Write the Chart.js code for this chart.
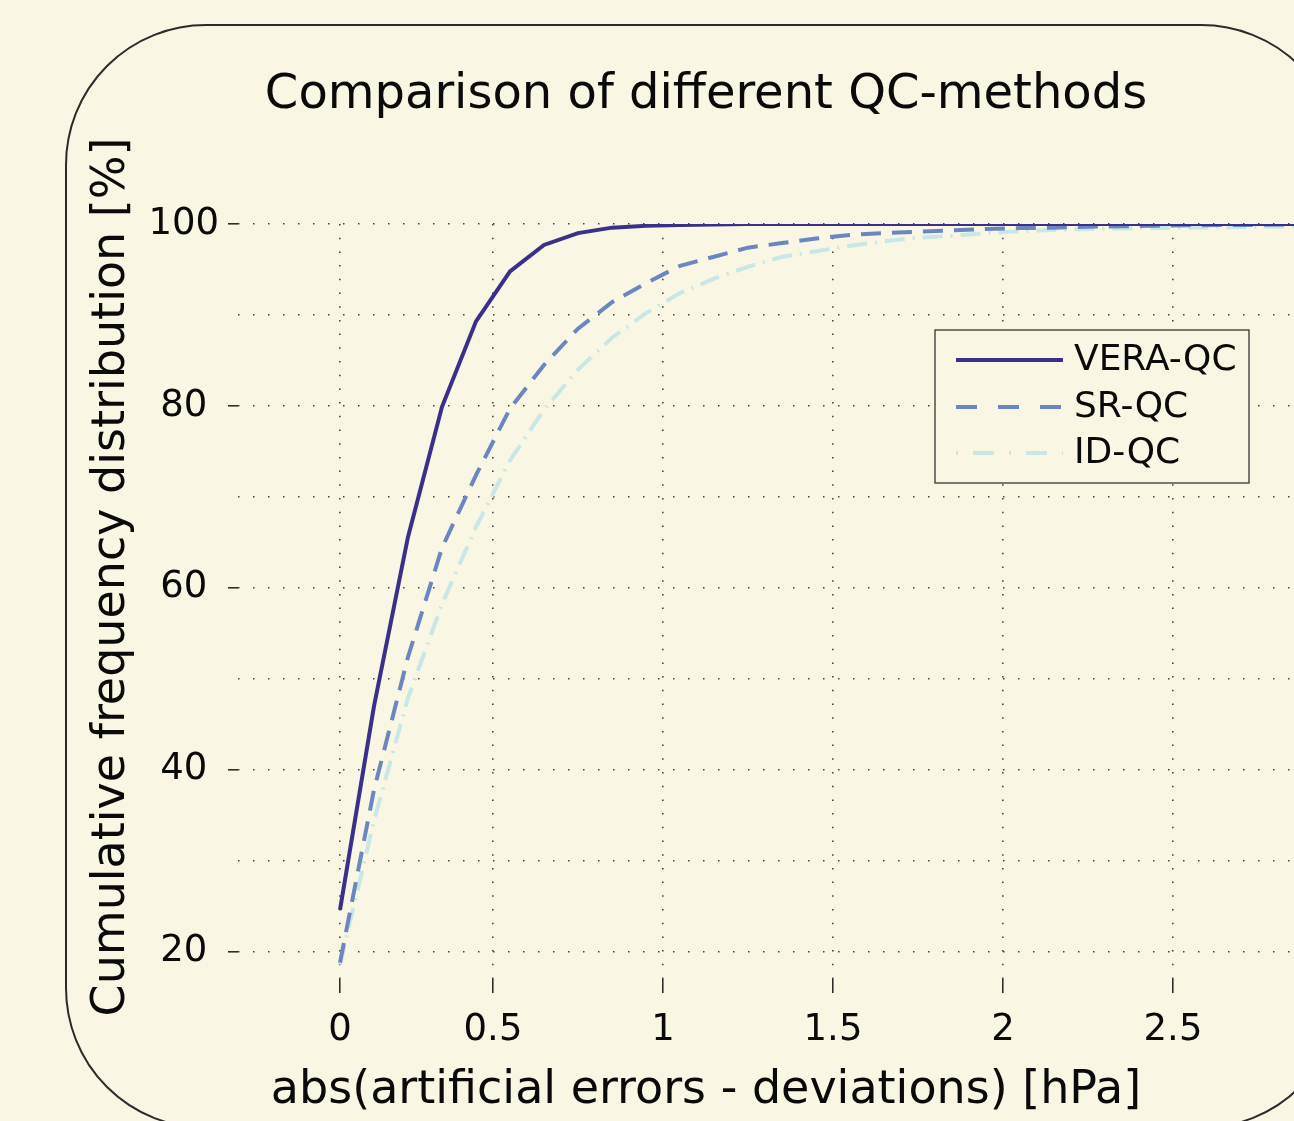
<!DOCTYPE html>
<html>
<head>
<meta charset="utf-8">
<title>Comparison of different QC-methods</title>
<script src="https://cdn.jsdelivr.net/npm/chart.js@4/dist/chart.umd.min.js"></script>
<style>
  html, body { margin: 0; padding: 0; background: #f9f6e3; overflow: hidden; }
  #wrap { position: absolute; left: 0; top: 0; width: 1360px; height: 1140px; }
</style>
</head>
<body>
<div id="wrap"><canvas id="qcChart" width="1360" height="1140"></canvas></div>
<script>
// bin centres of abs(artificial errors - deviations) [hPa]
const errorBins = [0.05, 0.15, 0.25, 0.35, 0.45, 0.55, 0.65, 0.75, 0.85, 0.95,
                   1.05, 1.15, 1.25, 1.35, 1.45, 1.55, 1.65, 1.75, 1.85, 1.95,
                   2.05, 2.15, 2.25, 2.35, 2.45, 2.55, 2.65, 2.75, 2.85, 2.95];

// cumulative frequency [%]
const veraQC = [24.6, 47.0, 65.6, 79.9, 89.3, 94.8, 97.7, 99.0, 99.6, 99.8,
                99.9, 99.95, 100, 100, 100, 100, 100, 100, 100, 100,
                100, 100, 100, 100, 100, 100, 100, 100, 100, 100];
const srQC = [18.8, 37.8, 52.4, 64.4, 72.4, 79.7, 84.5, 88.5, 91.4, 93.5,
              95.4, 96.4, 97.4, 97.9, 98.4, 98.8, 99.0, 99.15, 99.3, 99.45,
              99.55, 99.6, 99.7, 99.75, 99.8, 99.85, 99.9, 99.9, 99.95, 100];
const idQC = [18.6, 34.4, 47.9, 58.2, 66.7, 74.0, 79.6, 84.0, 87.5, 90.2,
              92.4, 94.0, 95.3, 96.4, 97.0, 97.6, 98.1, 98.5, 98.7, 99.0,
              99.2, 99.35, 99.45, 99.5, 99.55, 99.6, 99.65, 99.7, 99.75, 99.8];

const seriesNames = ['VERA-QC', 'SR-QC', 'ID-QC'];

// tick positions and their labels
const xTickValues = [0.05, 0.5, 1, 1.5, 2, 2.5];
const xTickLabels = ['0', '0.5', '1', '1.5', '2', '2.5'];
const yTickValues = [20, 30, 40, 50, 60, 70, 80, 90, 100];
const yLabelledTicks = [20, 40, 60, 80, 100];

const FONT = "'DejaVu Sans', Verdana, sans-serif";
const BG = '#f9f6e3';

function pts(ys) {
  return errorBins.map((x, i) => ({ x: x, y: ys[i] }));
}

// background + rounded frame
const framePlugin = {
  id: 'frame',
  beforeDraw(chart) {
    const ctx = chart.ctx;
    ctx.save();
    ctx.fillStyle = BG;
    ctx.fillRect(0, 0, chart.width, chart.height);
    ctx.beginPath();
    ctx.roundRect(66, 25, 1275, 1103, 140);
    ctx.lineWidth = 2;
    ctx.strokeStyle = '#2b2b2b';
    ctx.stroke();
    ctx.restore();
  }
};

// axis titles (placed where the original figure has them)
const axisTitlePlugin = {
  id: 'axisTitles',
  afterDraw(chart) {
    const ctx = chart.ctx;
    const xs = chart.options.scales.x.title;
    const ys = chart.options.scales.y.title;
    ctx.save();
    ctx.fillStyle = '#0a0a0a';
    ctx.font = '46px ' + FONT;
    ctx.textAlign = 'center';
    ctx.textBaseline = 'alphabetic';
    ctx.fillText(xs.text, 706, 1103);
    ctx.translate(124, 577);
    ctx.rotate(-Math.PI / 2);
    ctx.fillText(ys.text, 0, 0);
    ctx.restore();
  }
};

// boxed legend inside the plot
const boxLegendPlugin = {
  id: 'boxLegend',
  afterDatasetsDraw(chart) {
    const ctx = chart.ctx;
    const legendDash = [[], [21, 21], [2, 15, 21, 15]];
    const rowY = [360, 407, 453];
    ctx.save();
    ctx.fillStyle = BG;
    ctx.fillRect(935, 330, 314, 153);
    ctx.lineWidth = 1.3;
    ctx.strokeStyle = '#333';
    ctx.strokeRect(935, 330, 314, 153);
    chart.data.datasets.forEach((ds, i) => {
      ctx.beginPath();
      ctx.setLineDash(legendDash[i]);
      ctx.strokeStyle = ds.borderColor;
      ctx.lineWidth = ds.borderWidth;
      ctx.moveTo(956, rowY[i]);
      ctx.lineTo(1063, rowY[i]);
      ctx.stroke();
      ctx.setLineDash([]);
      ctx.fillStyle = '#0a0a0a';
      ctx.font = '36px ' + FONT;
      ctx.textAlign = 'left';
      ctx.textBaseline = 'middle';
      ctx.fillText(ds.label, 1074, rowY[i] + 1);
    });
    ctx.restore();
  }
};

const chart = new Chart(document.getElementById('qcChart'), {
  type: 'line',
  data: {
    datasets: [
      {
        label: seriesNames[0],
        data: pts(veraQC),
        borderColor: '#3a3089',
        borderWidth: 4,
        pointRadius: 0,
        tension: 0
      },
      {
        label: seriesNames[1],
        data: pts(srQC),
        borderColor: '#6c86c1',
        borderWidth: 4,
        borderDash: [20, 11],
        pointRadius: 0,
        tension: 0
      },
      {
        label: seriesNames[2],
        data: pts(idQC),
        borderColor: '#c9e7e6',
        borderWidth: 4,
        borderDash: [20, 8, 2, 8],
        pointRadius: 0,
        tension: 0
      }
    ]
  },
  options: {
    responsive: false,
    animation: false,
    devicePixelRatio: 1,
    layout: { padding: { left: 69, right: 17, top: 0, bottom: 0 } },
    plugins: {
      legend: { display: false },
      tooltip: { enabled: false },
      title: {
        display: true,
        text: 'Comparison of different QC-methods',
        color: '#0a0a0a',
        font: { family: FONT, size: 48, weight: 'normal', lineHeight: 1.2 },
        padding: { top: 67, bottom: 99.4 }
      }
    },
    scales: {
      x: {
        type: 'linear',
        min: -0.25,
        max: 3,
        title: { display: false, text: 'abs(artificial errors - deviations) [hPa]' },
        afterBuildTicks(scale) {
          scale.ticks = xTickValues.map(v => ({ value: v }));
        },
        afterFit(scale) { scale.height = 161; },
        ticks: {
          color: '#0a0a0a',
          font: { family: FONT, size: 37 },
          padding: 15,
          maxRotation: 0,
          autoSkip: false,
          callback: (v, i) => xTickLabels[i]
        },
        grid: {
          color: '#444',
          lineWidth: 1.6,
          tickLength: 14,
          tickColor: '#222',
          tickWidth: 1.5,
          tickBorderDash: []
        },
        border: { display: false, dash: [1.5, 12.2] }
      },
      y: {
        type: 'linear',
        min: 17,
        max: 100,
        title: { display: false, text: 'Cumulative frequency distribution [%]' },
        afterBuildTicks(scale) {
          scale.ticks = yTickValues.map(v => ({ value: v }));
        },
        afterFit(scale) { scale.width = 169; },
        ticks: {
          color: '#0a0a0a',
          font: { family: FONT, size: 37 },
          padding: 9,
          crossAlign: 'center',
          autoSkip: false,
          callback: (v) => yLabelledTicks.includes(v) ? String(v) : ''
        },
        grid: {
          color: '#444',
          lineWidth: 1.6,
          tickLength: 10,
          tickColor: (c) => (c.tick && yLabelledTicks.includes(c.tick.value)) ? '#222' : 'rgba(0,0,0,0)',
          tickWidth: 1.5,
          tickBorderDash: []
        },
        border: { display: false, dash: [1.5, 13.5] }
      }
    }
  },
  plugins: [framePlugin, axisTitlePlugin, boxLegendPlugin]
});
</script>
</body>
</html>
